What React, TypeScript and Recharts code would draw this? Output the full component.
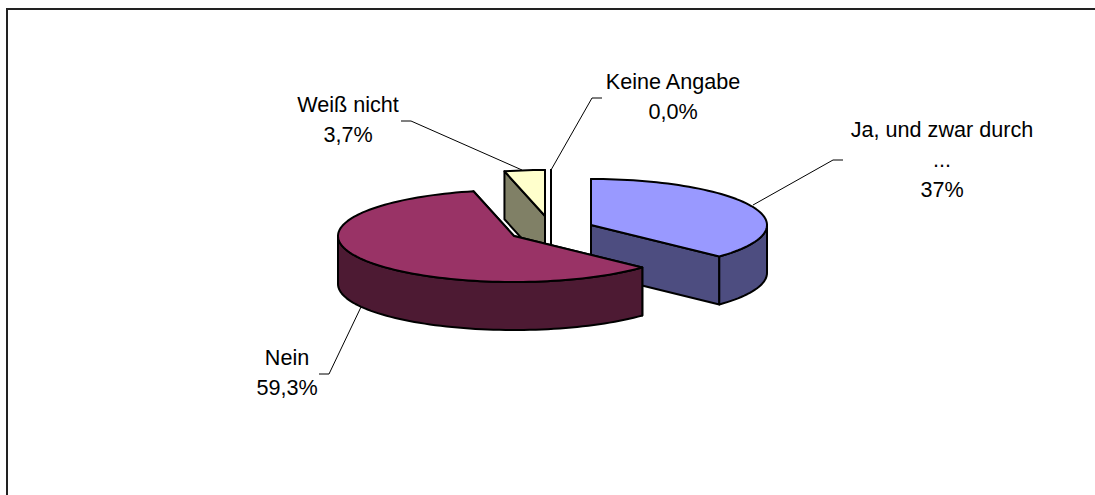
import { PieChart, Pie } from 'recharts';

const categories = ['Ja, und zwar durch', 'Keine Angabe', 'Weiß nicht', 'Nein'];
const shares = [37, 0, 3.7, 59.3];
const shareLabels = ['37%', '0,0%', '3,7%', '59,3%'];

const topColors = ['#9999FF', '#FFFFFF', '#FFFFCC', '#993366'];
const sideColors = ['#4D4D80', '#808080', '#808066', '#4D1A33'];

// how far each slice is pulled out of the pie
const sliceOffsets = [[46, 0], [6, -9], [0, -9], [-31, 11]];

// label blocks: centre x, first baseline, extra lines, leader line
const labelLines = [['Ja, und zwar durch', '...'], ['Keine Angabe'], ['Weiß nicht'], ['Nein']];
const labelCenters = [[942, 137], [673, 89], [348, 112], [287, 365]];
const leaders = [
  '843,160 833,160 753,205',
  '602,98 592,98 551,170',
  '401,121 411,121 522,170',
  '319,374 329,374 361,307',
];

const RX = 176;
const RY = 46;
const DEPTH = 48;
const FONT = '"Liberation Sans", Arial, sans-serif';

const rad = (a: number) => (a * Math.PI) / 180;

function arcPoints(cx: number, cy: number, from: number, to: number) {
  const pts: string[] = [];
  const steps = Math.max(1, Math.ceil(Math.abs(to - from) / 2));
  for (let i = 0; i <= steps; i++) {
    const a = rad(from + ((to - from) * i) / steps);
    pts.push(`${cx + RX * Math.cos(a)},${cy - RY * Math.sin(a)}`);
  }
  return pts;
}

function Slice(props: any) {
  const i = categories.indexOf(props.name);
  const [dx, dy] = sliceOffsets[i];
  const cx = props.cx + dx;
  const cy = props.cy + dy;
  const s = Math.min(props.startAngle, props.endAngle);
  const e = Math.max(props.startAngle, props.endAngle);
  const top = topColors[i];
  const side = sideColors[i];

  const face = (a: number) => {
    const x = cx + RX * Math.cos(rad(a));
    const y = cy - RY * Math.sin(rad(a));
    return `M${cx},${cy} L${x},${y} L${x},${y + DEPTH} L${cx},${cy + DEPTH} Z`;
  };

  // outer wall only shows on the front half of the ellipse
  const walls: string[] = [];
  for (const k of [-360, 0, 360]) {
    const from = Math.max(s, 180 + k);
    const to = Math.min(e, 360 + k);
    if (to > from) {
      const upper = arcPoints(cx, cy, from, to);
      const lower = arcPoints(cx, cy + DEPTH, to, from);
      walls.push(`M${upper.join(' L')} L${lower.join(' L')} Z`);
    }
  }

  const topPath = `M${cx},${cy} L${arcPoints(cx, cy, s, e).join(' L')} Z`;
  const common = { stroke: '#000', strokeWidth: 2, strokeLinejoin: 'round' as const };

  return (
    <g>
      <path d={face(s)} fill={side} {...common} />
      <path d={face(e)} fill={side} {...common} />
      {walls.map((d, n) => <path key={n} d={d} fill={side} {...common} />)}
      <path d={topPath} fill={top} {...common} />
    </g>
  );
}

function SliceLabel(props: any) {
  const i = categories.indexOf(props.name);
  const [x, y] = labelCenters[i];
  const lines = [...labelLines[i], shareLabels[i]];
  return (
    <g>
      <polyline points={leaders[i]} fill="none" stroke="#000" strokeWidth={1} />
      {lines.map((t, n) => (
        <text key={n} x={x} y={y + n * 30} textAnchor="middle" fontFamily={FONT} fontSize={21.6} fill="#000">{t}</text>
      ))}
    </g>
  );
}

const chartData = categories.map((name, i) => ({ name, value: shares[i] }));
// red slice has to paint last, so the pie runs counter-clockwise from the end of the first slice
const startAngle = 90 - (shares[0] / 100) * 360;

export default function App() {
  return (
    <div style={{ position: 'absolute', left: 0, top: 0, width: 1095, height: 495, background: '#fff', overflow: 'hidden' }}>
      <div style={{ position: 'absolute', left: 6, top: 8, right: 0, bottom: 0, borderLeft: '2px solid #222', borderTop: '2px solid #222' }} />
      <div style={{ position: 'absolute', left: 0, top: 0 }}>
        <PieChart width={1095} height={495} margin={{ top: 0, right: 0, bottom: 0, left: 0 }}>
          <Pie
            data={chartData}
            dataKey="value"
            nameKey="name"
            cx={545}
            cy={225}
            innerRadius={0}
            outerRadius={RX}
            startAngle={startAngle}
            endAngle={startAngle + 360}
            stroke="none"
            isAnimationActive={false}
            shape={Slice}
            label={SliceLabel}
            labelLine={false}
          />
        </PieChart>
      </div>
    </div>
  );
}
